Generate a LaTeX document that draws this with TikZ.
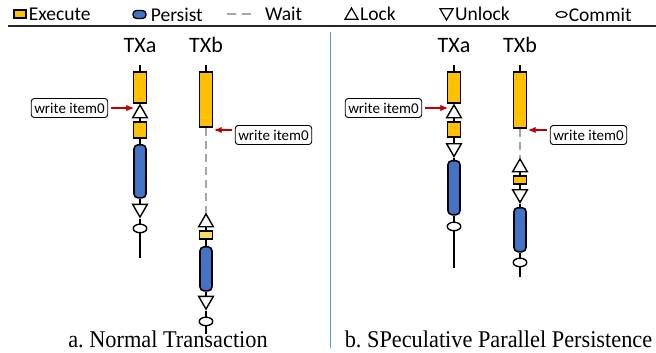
\documentclass[tikz,border=0pt]{standalone}
\usepackage{fontspec}
\setmainfont{Liberation Serif}
\newfontfamily\calibri{Carlito}
\usepackage{tikz}
\usetikzlibrary{positioning, arrows, shapes.geometric}
\frenchspacing

\definecolor{execute}{HTML}{FFC000}
\definecolor{executelight}{HTML}{FFD966}
\definecolor{persist}{HTML}{4472C4}
\definecolor{writered}{HTML}{C00000}
\definecolor{waitgray}{HTML}{A6A6A6}
\definecolor{splitblue}{HTML}{5B9BD5}

\newcommand{\narrowcap}[1]{\scalebox{0.93}[1]{#1}}

\begin{document}
\begin{tikzpicture}[
		x=1pt, y=-1pt,
		>=stealth',
		node distance=4pt,
		every node/.style={inner sep=0pt},
		exec/.style={draw, line width=1.6pt, fill=execute, minimum width=13pt},
		persistbar/.style={draw, line width=1.6pt, fill=persist, rounded corners=4pt, minimum width=12pt},
		lockmark/.style={draw, line width=1.4pt, fill=white, regular polygon, regular polygon sides=3, minimum size=17pt},
		unlockmark/.style={lockmark, shape border rotate=180},
		commitmark/.style={draw, line width=1.4pt, fill=white, ellipse, minimum width=13.5pt, minimum height=8.5pt},
		txline/.style={line width=1.6pt},
		waitline/.style={line width=2.5pt, waitgray, dash pattern=on 8pt off 5pt},
		writeto/.style={->, line width=1.3pt, writered, shorten <=3pt},
		note/.style={draw, line width=0.9pt, fill=white, rounded corners=3pt, inner xsep=3pt, minimum height=19pt, font=\calibri\fontsize{15}{15}\selectfont},
		txlabel/.style={font=\calibri\fontsize{22}{22}\selectfont},
		keytext/.style={font=\calibri\fontsize{19.5}{19.5}\selectfont, anchor=west},
		caption/.style={font=\fontsize{24}{24}\selectfont, anchor=base}]

	\useasboundingbox (0,0) rectangle (656,353);

	% key
	\node[exec, line width=1.3pt, minimum width=12pt, minimum height=8pt] (key exec) at (20,14) {};
	\node[keytext, right=2pt of key exec] {Execute};
	\node[persistbar, line width=1.3pt, rounded corners=3.5pt, minimum width=13pt, minimum height=8pt] (key persist) at (139.5,14.5) {};
	\node[keytext, right=4pt of key persist] {Persist};
	\coordinate (key wait a) at (227,14);
	\coordinate (key wait b) at (256,14);
	\draw[waitline, dash pattern=on 9pt off 6pt] (key wait a) -- (key wait b);
	\node[keytext] at (265,14) {Wait};
	\node[lockmark, line width=1.2pt, minimum size=15pt] (key lock) at (351.5,15.5) {};
	\node[keytext] at (360,14) {Lock};
	\node[unlockmark, line width=1.2pt, minimum size=15pt] (key unlock) at (446.5,12.5) {};
	\node[keytext] at (455,14) {Unlock};
	\node[commitmark, line width=1.2pt, minimum width=11pt, minimum height=6pt] (key commit) at (561.5,14.5) {};
	\node[keytext, right=1pt of key commit] {Commit};

	\draw[line width=1.4pt, black!85] (8,26) -- (656,26);
	\draw[line width=0.9pt, splitblue] (330,32) -- (330,348);

	% a. normal transaction
	\coordinate (la top) at (140,65);
	\node[txlabel, above=12pt of la top] {TXa};
	\node[exec, minimum height=31pt, anchor=north] (la exec1) at (140,71) {};
	\node[lockmark, below=0pt of la exec1] (la lock) {};
	\node[exec, minimum height=16pt, below=3pt of la lock] (la exec2) {};
	\node[persistbar, minimum height=53pt, below=5pt of la exec2] (la persist) {};
	\node[unlockmark, below=5pt of la persist] (la unlock) {};
	\node[commitmark, below=5pt of la unlock] (la commit) {};
	\coordinate[below=25pt of la commit] (la end);

	\coordinate (lb top) at (206,65);
	\node[txlabel, above=12pt of lb top] {TXb};
	\node[exec, minimum height=55pt, anchor=north] (lb exec1) at (206,71) {};
	\node[lockmark, below=85pt of lb exec1] (lb lock) {};
	\node[exec, fill=executelight, minimum height=8pt, below=3pt of lb lock] (lb exec2) {};
	\node[persistbar, minimum height=44pt, below=6pt of lb exec2] (lb persist) {};
	\node[unlockmark, below=4pt of lb persist] (lb unlock) {};
	\node[commitmark, below=6pt of lb unlock] (lb commit) {};
	\coordinate[below=8pt of lb commit] (lb end);

	\draw[txline] (la top) -- (la exec1) -- (la lock) -- (la exec2) -- (la persist)
		-- (la unlock) -- (la commit) -- (la end);
	\draw[txline] (lb top) -- (lb exec1);
	\draw[waitline] (lb exec1) -- (lb lock);
	\draw[txline] (lb lock) -- (lb exec2) -- (lb persist) -- (lb unlock) -- (lb commit) -- (lb end);

	\node[note] (la note) at (69.5,108) {write item0};
	\node[note] (lb note) at (273.5,135) {write item0};
	\draw[writeto] (la note.east) -- (la note.east -| la exec1.west);
	\draw[writeto] ([yshift=5pt]lb note.west) -- ([yshift=5pt, xshift=2pt]lb note.west -| lb exec1.east);

	\node[caption] (cap a) at (168,347) {\narrowcap{a. Normal Transaction}};

	% b. speculative parallel persistence
	\coordinate (ra top) at (454,65);
	\node[txlabel, above=12pt of ra top] {TXa};
	\node[exec, minimum height=31pt, anchor=north] (ra exec1) at (454,71) {};
	\node[lockmark, below=0pt of ra exec1] (ra lock) {};
	\node[exec, minimum height=15pt, below=3pt of ra lock] (ra exec2) {};
	\node[unlockmark, below=5pt of ra exec2] (ra unlock) {};
	\node[persistbar, minimum height=54pt, below=2pt of ra unlock] (ra persist) {};
	\node[commitmark, below=6pt of ra persist] (ra commit) {};
	\coordinate[below=37pt of ra commit] (ra end);

	\coordinate (rb top) at (520,65);
	\node[txlabel, above=12pt of rb top] {TXb};
	\node[exec, minimum height=56pt, anchor=north] (rb exec1) at (520,71) {};
	\node[lockmark, below=29pt of rb exec1] (rb lock) {};
	\node[exec, minimum height=8pt, below=3pt of rb lock] (rb exec2) {};
	\node[unlockmark, below=4pt of rb exec2] (rb unlock) {};
	\node[persistbar, minimum height=44pt, below=3pt of rb unlock] (rb persist) {};
	\node[commitmark, below=5pt of rb persist] (rb commit) {};
	\coordinate[below=10pt of rb commit] (rb end);

	\draw[txline] (ra top) -- (ra exec1) -- (ra lock) -- (ra exec2) -- (ra unlock)
		-- (ra persist) -- (ra commit) -- (ra end);
	\draw[txline] (rb top) -- (rb exec1);
	\draw[waitline] (rb exec1) -- (rb lock);
	\draw[txline] (rb lock) -- (rb exec2) -- (rb unlock) -- (rb persist) -- (rb commit) -- (rb end);

	\node[note] (ra note) at (383.5,108) {write item0};
	\node[note] (rb note) at (588.5,135) {write item0};
	\draw[writeto] (ra note.east) -- (ra note.east -| ra exec1.west);
	\draw[writeto] ([yshift=5pt]rb note.west) -- ([yshift=5pt, xshift=2pt]rb note.west -| rb exec1.east);

	\node[caption] (cap b) at (498.5,347) {\narrowcap{b. SPeculative Parallel Persistence}};

\end{tikzpicture}
\end{document}
